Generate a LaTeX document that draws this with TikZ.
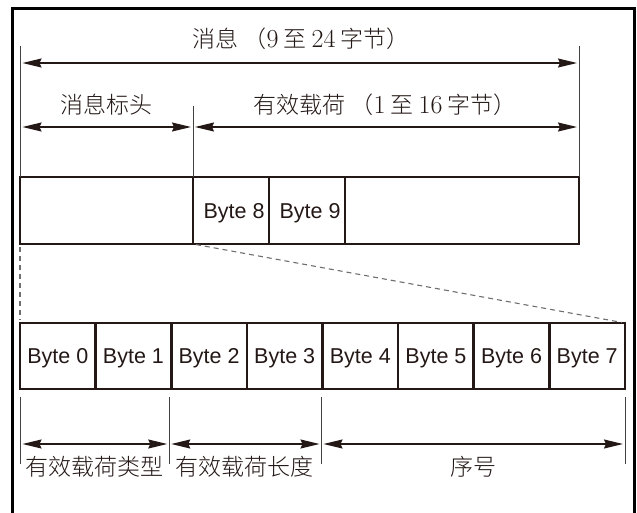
\documentclass[tikz,border=0pt]{standalone}
\usepackage{fontspec}
\newfontfamily\cjk{Noto Sans CJK SC Light}
\newfontfamily\arial{Liberation Sans}
\usetikzlibrary{arrows.meta}
\definecolor{ink}{RGB}{35,24,21}
\definecolor{extgray}{RGB}{70,65,65}
\definecolor{dashgray}{RGB}{110,110,110}
\newcommand{\dg}[1]{{\rmfamily\fontsize{26}{28}\selectfont #1}}
\tikzset{
  frameline/.style={draw=black, line width=3pt},
  cell/.style={draw=ink, line width=2.6pt, rectangle, inner sep=0pt, outer sep=0pt,
    anchor=north west, font=\arial\fontsize{21.5}{24}\selectfont, text=ink,
    text height=15.4pt, text depth=0pt},
  extline/.style={draw=extgray, line width=1pt},
  zoomline/.style={draw=dashgray, line width=1.1pt, dash pattern=on 5pt off 4pt, shorten <=3pt, shorten >=3pt},
  dimarrow/.style={draw=ink, line width=1.3pt,
    {Stealth[length=19pt,width=9pt,inset=2pt]}-{Stealth[length=19pt,width=9pt,inset=2pt]},
    shorten <=2pt, shorten >=2pt},
  cjklab/.style={font=\cjk\fontsize{23}{26}\selectfont, text=ink, inner sep=0pt},
}
\begin{document}
\begin{tikzpicture}[x=1pt,y=-1pt]
\useasboundingbox (0,0) rectangle (637,512);
% frame
\draw[frameline] (12,513) -- (12,8) -- (634,8) -- (634,513);

% upper message row
\node[cell, minimum width=173pt, minimum height=67pt] (hdr) at (20,177) {};
\node[cell, minimum width=76pt, minimum height=67pt] (b8) at (193,177) {\hspace{6pt}Byte 8};
\node[cell, minimum width=76pt, minimum height=67pt] (b9) at (269,177) {\hspace{6pt}Byte 9};
\node[cell, minimum width=234pt, minimum height=67pt] (rest) at (345,177) {};

% lower byte row
\foreach \i in {0,...,7}
  \node[cell, minimum width=75.625pt, minimum height=66pt] (c\i) at ({20+75.625*\i},323) {Byte \i};

% zoom lines
\draw[zoomline] (hdr.south west) -- (c0.north west);
\draw[zoomline] (hdr.south east) -- (c7.north east);

% upper extension lines
\coordinate (tL) at (20.5,46);
\coordinate (tR) at (579,46);
\coordinate (tM) at (193,106);
\draw[extline] (tL) -- (tL |- hdr.north);
\draw[extline] (tR) -- (tR |- rest.north);
\draw[extline] (tM) -- (tM |- b8.north);

% upper dimension arrows
\coordinate (a1l) at (20.5,63);
\coordinate (a1r) at (579,63);
\coordinate (a2l) at (20.5,127);
\coordinate (a2m) at (193,127);
\coordinate (a2r) at (579,127);
\draw[dimarrow] (a1l) -- (a1r);
\draw[dimarrow] (a2l) -- (a2m);
\draw[dimarrow] (a2m) -- (a2r);

\node[cjklab] (lmsg) at (301,39) {消息 （\dg{9} 至 \dg{24} 字节）};
\node[cjklab] (lhdr) at (106.5,105) {消息标头};
\node[cjklab] (lpay) at (385,105) {有效载荷 （\dg{1} 至 \dg{16} 字节）};

% lower extension lines
\coordinate (e0) at (20.5,397);
\coordinate (e1) at (169.25,397);
\coordinate (e2) at (321.5,397);
\coordinate (e3) at (625,397);
\foreach \e in {e0,e1,e2,e3}
  \draw[extline] (\e) -- ++(0,67);

% lower dimension arrows
\coordinate (d0) at (20.5,444);
\coordinate (d1) at (169.25,444);
\coordinate (d2) at (321.5,444);
\coordinate (d3) at (625,444);
\draw[dimarrow] (d0) -- (d1);
\draw[dimarrow] (d1) -- (d2);
\draw[dimarrow] (d2) -- (d3);

\node[cjklab] (ltype) at (94,467) {有效载荷类型};
\node[cjklab] (llen) at (244,467) {有效载荷长度};
\node[cjklab] (lseq) at (473,467) {序号};
\end{tikzpicture}
\end{document}
